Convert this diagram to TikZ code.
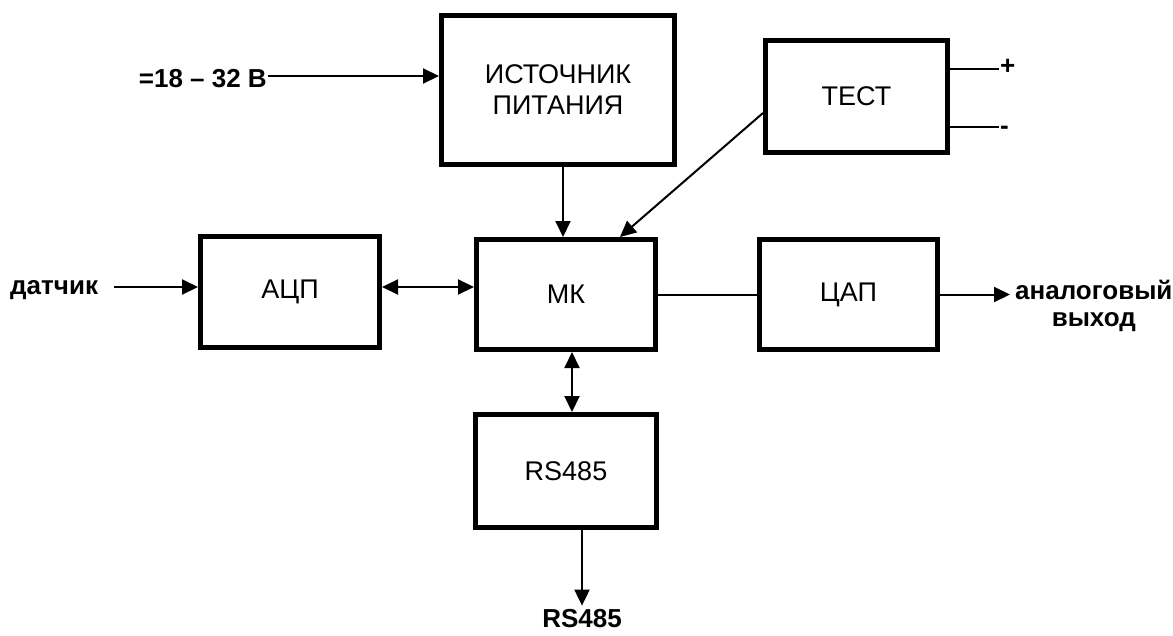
\documentclass[tikz,border=0pt]{standalone}
\usepackage{fontspec}
\setmainfont{Liberation Sans}
\usetikzlibrary{positioning,arrows.meta}

\begin{document}
\begin{tikzpicture}[x=1pt,y=-1pt,
    block/.style={draw, line width=5pt, align=center, font=\fontsize{27}{31}\selectfont},
    link/.style={line width=2pt},
    arr/.style={link, -{Triangle[length=16pt,width=15pt]}},
    biarr/.style={link, {Triangle[length=16pt,width=15pt]}-{Triangle[length=16pt,width=15pt]}},
    lbl/.style={font=\fontsize{26}{27}\selectfont\bfseries, inner sep=1pt}]
    \useasboundingbox (0,0) rectangle (1173,635);

    % Blocks
    \node[block, minimum width=233pt, minimum height=149pt] (psu) at (558,90) {ИСТОЧНИК\\ПИТАНИЯ};
    \node[block, minimum width=182pt, minimum height=112pt] (test) at (856.5,96.5) {ТЕСТ};
    \node[block, minimum width=179pt, minimum height=111pt] (adc) at (290,292) {АЦП};
    \node[block, minimum width=179pt, minimum height=110pt] (mcu) at (566,294.5) {МК};
    \node[block, minimum width=178pt, minimum height=110pt] (dac) at (848.5,294.5) {ЦАП};
    \node[block, minimum width=181pt, minimum height=113pt] (rs) at (566,471) {RS485};

    % Outer labels
    \node[lbl, anchor=east] (vin) at (268,79) {=18 – 32 В};
    \node[lbl, anchor=west] (sens) at (9,290) {датчик};
    \node[lbl, anchor=west, align=center] (aout) at (1014,306) {аналоговый\\выход};
    \node[lbl, anchor=west] (plus) at (999,67) {+};
    \node[lbl, anchor=west] (minus) at (999,130) {-};
    \node[lbl] (rsout) at (582,619) {RS485};

    % Power and test
    \draw[arr] (vin.east |- 0,76) -- (psu.west |- 0,76);
    \draw[arr] ([xshift=5pt]psu.south) -- ([xshift=5pt]psu.south |- mcu.north);
    \draw[arr] ([yshift=-16.5pt]test.west) -- ([xshift=54pt]mcu.north);
    \draw[link] ([yshift=27.5pt]test.east) -- (plus.west |- 0,69);
    \draw[link] ([yshift=-30.5pt]test.east) -- (minus.west |- 0,127);

    % Signal path
    \draw[arr] ([xshift=15pt]sens.east |- 0,287) -- (adc.west |- 0,287);
    \draw[biarr] ([yshift=5pt]adc.east) -- ([yshift=5pt]adc.east -| mcu.west);
    \draw[link] (mcu.east) -- (dac.west);
    \draw[arr] (dac.east) -- ([xshift=-4pt]dac.east -| aout.west);

    % Interface
    \draw[biarr] ([xshift=6pt]mcu.south) -- ([xshift=6pt]rs.north);
    \draw[arr] ([xshift=16pt]rs.south) -- ([yshift=3pt]rsout.north);
\end{tikzpicture}
\end{document}
